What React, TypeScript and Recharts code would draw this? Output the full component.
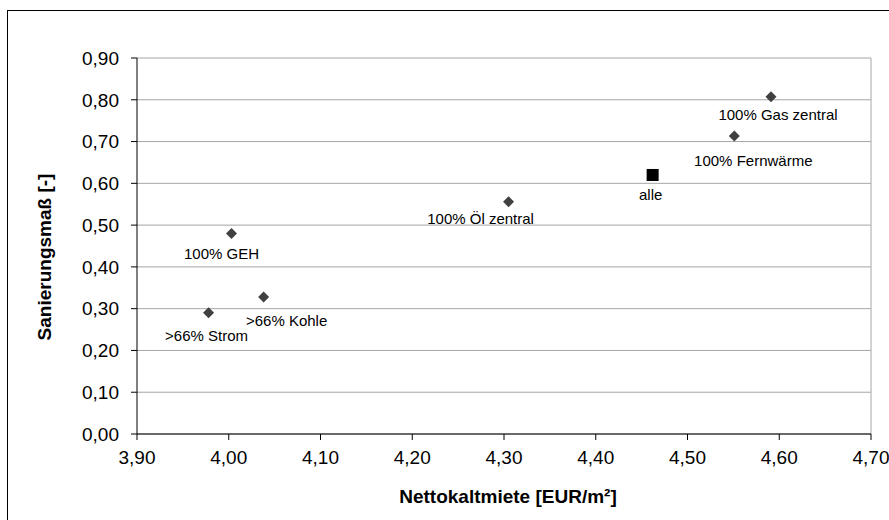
import React from "react";
import {
  ScatterChart,
  Scatter,
  XAxis,
  YAxis,
  CartesianGrid,
  ReferenceLine,
  LabelList,
} from "recharts";

// Heizungsgruppen: Nettokaltmiete vs. Sanierungsmaß
const groupNames = [
  "100% Gas zentral",
  "100% Fernwärme",
  "100% Öl zentral",
  "100% GEH",
  ">66% Kohle",
  ">66% Strom",
];
const groupRent = [4.591, 4.551, 4.305, 4.003, 4.038, 3.978];
const groupRenovation = [0.807, 0.713, 0.556, 0.48, 0.328, 0.29];

const allName = "alle";
const allRent = 4.462;
const allRenovation = 0.62;

const xTicks = [3.9, 4.0, 4.1, 4.2, 4.3, 4.4, 4.5, 4.6, 4.7];
const yTicks = [0, 0.1, 0.2, 0.3, 0.4, 0.5, 0.6, 0.7, 0.8, 0.9];

const groupData = groupNames.map((name, i) => ({
  name,
  x: groupRent[i],
  y: groupRenovation[i],
}));
const allData = [{ name: allName, x: allRent, y: allRenovation }];

// label offsets relative to the marker (layout only)
const labelOffset: Record<string, [number, number]> = {
  "100% Gas zentral": [7, 18],
  "100% Fernwärme": [19, 24],
  "100% Öl zentral": [-28, 17],
  "100% GEH": [-10, 20],
  ">66% Kohle": [23, 24],
  ">66% Strom": [-2, 23],
  alle: [-2, 20],
};

const FONT = "'Liberation Sans', Arial, sans-serif";
const fmt = (v: number) => v.toFixed(2).replace(".", ",");

const Diamond = (props: any) => {
  const { cx, cy } = props;
  const r = 5.5;
  return (
    <polygon
      points={`${cx},${cy - r} ${cx + r},${cy} ${cx},${cy + r} ${cx - r},${cy}`}
      fill="#404040"
    />
  );
};

const Square = (props: any) => {
  const { cx, cy } = props;
  return <rect x={cx - 6} y={cy - 6} width={12} height={12} fill="#000" />;
};

const PointLabel = (props: any) => {
  const { x, y, width, height, value } = props;
  const cx = x + (width || 0) / 2;
  const cy = y + (height || 0) / 2;
  const [dx, dy] = labelOffset[value] || [0, 20];
  return (
    <text
      x={cx + dx}
      y={cy + dy}
      textAnchor="middle"
      dominantBaseline="central"
      fontFamily={FONT}
      fontSize={15}
      fill="#000"
    >
      {value}
    </text>
  );
};

export default function App() {
  return (
    <div
      style={{
        position: "absolute",
        left: 0,
        top: 0,
        width: 889,
        height: 520,
        overflow: "hidden",
        background: "#fff",
      }}
    >
      <div
        style={{
          position: "absolute",
          left: 7,
          top: 10,
          width: 1000,
          height: 1000,
          borderLeft: "1px solid #000",
          borderTop: "1px solid #000",
          pointerEvents: "none",
        }}
      />
      <ScatterChart
        width={889}
        height={520}
        margin={{ top: 58, right: 18, bottom: 26, left: 62 }}
      >
        <CartesianGrid vertical={false} stroke="#a6a6a6" />
        <ReferenceLine x={4.7} stroke="#a6a6a6" />
        <XAxis
          type="number"
          dataKey="x"
          domain={[3.9, 4.7]}
          ticks={xTicks}
          tickFormatter={fmt}
          height={60}
          tickSize={6}
          tickMargin={11}
          axisLine={{ stroke: "#000" }}
          tickLine={{ stroke: "#000" }}
          tick={{ fill: "#000", fontSize: 19, fontFamily: FONT }}
          allowDataOverflow
          interval={0}
          label={{
            content: () => (
              <text
                x={508}
                y={503}
                textAnchor="middle"
                fontFamily={FONT}
                fontSize={19}
                fontWeight="bold"
                fill="#000"
              >
                Nettokaltmiete [EUR/m²]
              </text>
            ),
          }}
        />
        <YAxis
          type="number"
          dataKey="y"
          domain={[0, 0.9]}
          ticks={yTicks}
          tickFormatter={fmt}
          width={75}
          tickSize={6}
          tickMargin={12}
          axisLine={{ stroke: "#000" }}
          tickLine={{ stroke: "#000" }}
          tick={{ fill: "#000", fontSize: 19, fontFamily: FONT }}
          interval={0}
          label={{
            content: () => (
              <text
                x={51}
                y={257}
                transform="rotate(-90 51 257)"
                textAnchor="middle"
                fontFamily={FONT}
                fontSize={19}
                fontWeight="bold"
                fill="#000"
              >
                Sanierungsmaß [-]
              </text>
            ),
          }}
        />
        <Scatter
          data={groupData}
          shape={Diamond}
          isAnimationActive={false}
        >
          <LabelList dataKey="name" content={PointLabel} />
        </Scatter>
        <Scatter data={allData} shape={Square} isAnimationActive={false}>
          <LabelList dataKey="name" content={PointLabel} />
        </Scatter>
      </ScatterChart>
    </div>
  );
}
